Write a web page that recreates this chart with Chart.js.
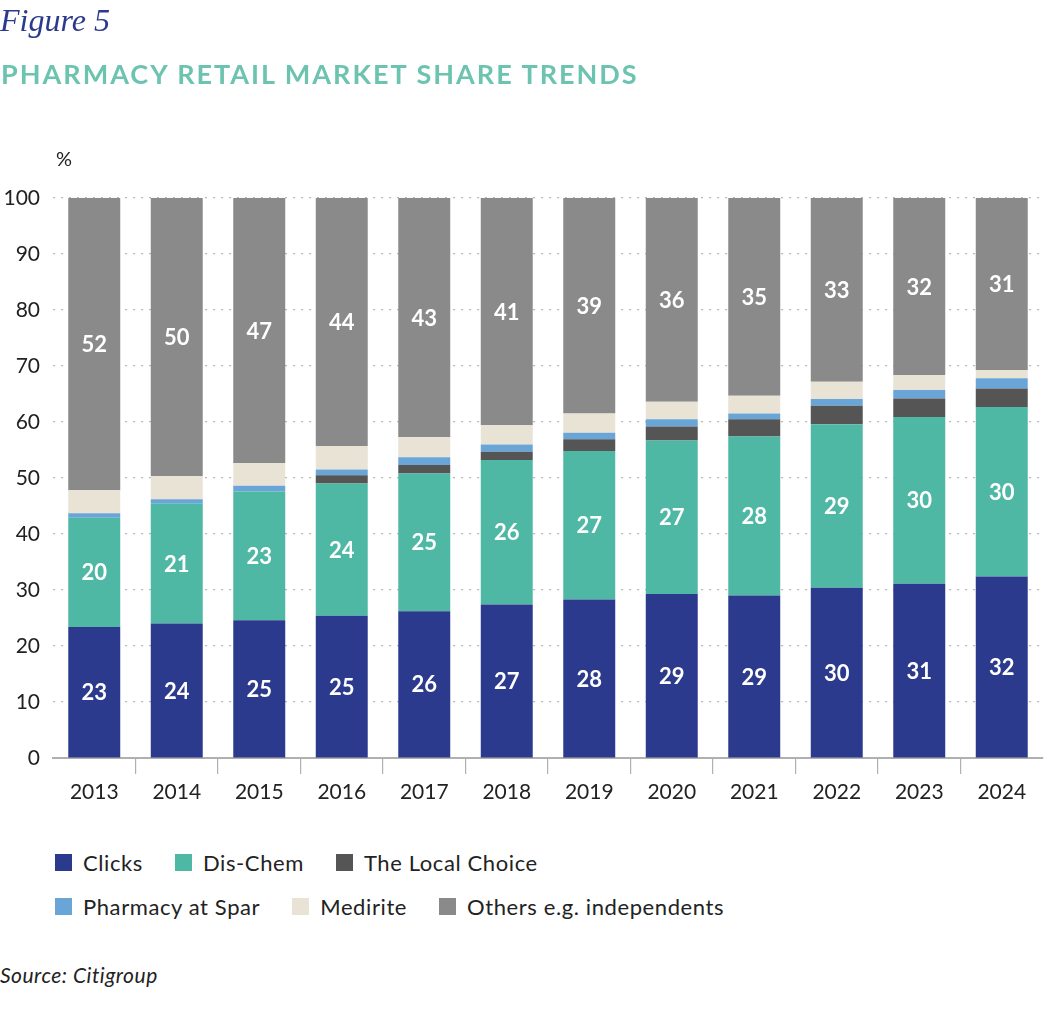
<!DOCTYPE html>
<html>
<head>
<meta charset="utf-8">
<script src="https://cdn.jsdelivr.net/npm/chart.js@4.4.1/dist/chart.umd.min.js"></script>
<style>
  body { margin: 0; background: #fff; width: 1063px; height: 1022px; position: relative; overflow: hidden; font-family: Lato, sans-serif; }
  #fig { position: absolute; left: 0; top: 2px; font-family: "Liberation Serif", serif; font-style: italic; font-size: 32px; color: #2b3a8c; }
  #title { position: absolute; left: 1px; top: 57px; font-family: Lato, sans-serif; font-weight: 700; font-size: 27px; color: #6cc4b0; letter-spacing: 2px; }
  #unit { position: absolute; left: 56px; top: 146px; font-size: 20px; color: #222; }
  #chartWrap { position: absolute; left: 0; top: 0; }
  #legend { position: absolute; left: 55px; top: 840px; width: 1000px; }
  .row { display: flex; align-items: center; height: 44px; }
  .item { display: flex; align-items: center; margin-right: 32px; font-size: 22px; letter-spacing: 0.6px; color: #222; }
  .sw { width: 17px; height: 17px; margin-right: 11px; }
  #source { position: absolute; left: 0; top: 962px; font-style: italic; font-size: 21px; letter-spacing: 0.5px; color: #222; }
</style>
</head>
<body>
<div id="chartWrap"><canvas id="chart" width="1063" height="830" style="width:1063px;height:830px"></canvas></div>
<div id="fig">Figure 5</div>
<div id="title">PHARMACY RETAIL MARKET SHARE TRENDS</div>
<div id="unit">%</div>
<div id="legend"></div>
<div id="source">Source: Citigroup</div>
<script>
const years = ['2013', '2014', '2015', '2016', '2017', '2018', '2019', '2020', '2021', '2022', '2023', '2024'];

const clicks     = [23.4, 24.0, 24.6, 25.4, 26.2, 27.4, 28.3, 29.3, 29.0, 30.4, 31.1, 32.4];
const disChem    = [19.5, 21.4, 23.0, 23.6, 24.6, 25.8, 26.5, 27.4, 28.4, 29.2, 29.8, 30.3];
const localChoice = [0, 0, 0, 1.5, 1.5, 1.5, 2.1, 2.5, 3.1, 3.3, 3.3, 3.3];
const sparPharm  = [0.8, 0.8, 1.0, 1.0, 1.4, 1.3, 1.2, 1.3, 1.0, 1.2, 1.5, 1.8];
const medirite   = [4.1, 4.1, 4.1, 4.2, 3.6, 3.4, 3.4, 3.1, 3.2, 3.1, 2.7, 1.5];
const others     = [52.2, 49.7, 47.3, 44.3, 42.7, 40.6, 38.5, 36.4, 35.3, 32.8, 31.6, 30.7];

const yTicks = [0, 10, 20, 30, 40, 50, 60, 70, 80, 90, 100];

const series = [
  { label: 'Clicks', data: clicks, color: '#2b3a8c', labelled: true },
  { label: 'Dis-Chem', data: disChem, color: '#4fb8a5', labelled: true },
  { label: 'The Local Choice', data: localChoice, color: '#555555', labelled: false },
  { label: 'Pharmacy at Spar', data: sparPharm, color: '#6aa5d8', labelled: false },
  { label: 'Medirite', data: medirite, color: '#e9e3d6', labelled: false },
  { label: 'Others e.g. independents', data: others, color: '#8a8a8a', labelled: true },
];

// white value labels centred in the big segments
const segmentLabels = {
  id: 'segmentLabels',
  afterDatasetsDraw(chart) {
    const ctx = chart.ctx;
    ctx.save();
    ctx.fillStyle = '#ffffff';
    ctx.font = '700 22px Lato, sans-serif';
    ctx.textAlign = 'center';
    ctx.textBaseline = 'middle';
    chart.data.datasets.forEach((ds, i) => {
      if (!ds.labelled) return;
      chart.getDatasetMeta(i).data.forEach((bar, j) => {
        const v = ds.data[j];
        ctx.fillText(String(Math.round(v)), bar.x, (bar.y + bar.base) / 2 + 1);
      });
    });
    ctx.restore();
  }
};

const chart = new Chart(document.getElementById('chart').getContext('2d'), {
  type: 'bar',
  data: {
    labels: years,
    datasets: series.map(s => ({
      label: s.label,
      data: s.data,
      labelled: s.labelled,
      backgroundColor: s.color,
      borderWidth: 0,
      categoryPercentage: 1,
      barPercentage: 0.63,
    }))
  },
  options: {
    responsive: false,
    animation: false,
    layout: { padding: { top: 198, left: 0, right: 20, bottom: 22 } },
    plugins: {
      legend: { display: false },
      tooltip: { enabled: false },
    },
    scales: {
      x: {
        stacked: true,
        grid: {
          offset: true,
          drawOnChartArea: false,
          drawTicks: true,
          tickLength: 16,
          color: (c) => (c.type !== 'tick' || c.index === 0) ? 'rgba(0,0,0,0)' : '#b0b0b0',
          lineWidth: 1.2,
        },
        border: { display: true, color: '#b0b0b0', width: 2 },
        ticks: { color: '#222', font: { family: 'Lato', size: 21 }, padding: 6 },
        afterFit: (s) => { s.height = 50; },
      },
      y: {
        stacked: true,
        min: 0,
        max: 100,
        afterBuildTicks: (s) => { s.ticks = yTicks.map(v => ({ value: v })); },
        grid: { drawTicks: false, color: '#b8b8b8', lineWidth: 1.2 },
        border: { display: false, dash: [2, 6] },
        ticks: { color: '#222', font: { family: 'Lato', size: 21 }, padding: 13 },
        afterFit: (s) => { s.width = 53; },
      }
    }
  },
  plugins: [segmentLabels]
});

// html legend built from the datasets
const legend = document.getElementById('legend');
[[0, 1, 2], [3, 4, 5]].forEach(idxs => {
  const row = document.createElement('div');
  row.className = 'row';
  idxs.forEach(i => {
    const ds = chart.data.datasets[i];
    const item = document.createElement('div');
    item.className = 'item';
    item.innerHTML = '<span class="sw" style="background:' + ds.backgroundColor + '"></span>' + ds.label;
    row.appendChild(item);
  });
  legend.appendChild(row);
});
</script>
</body>
</html>
